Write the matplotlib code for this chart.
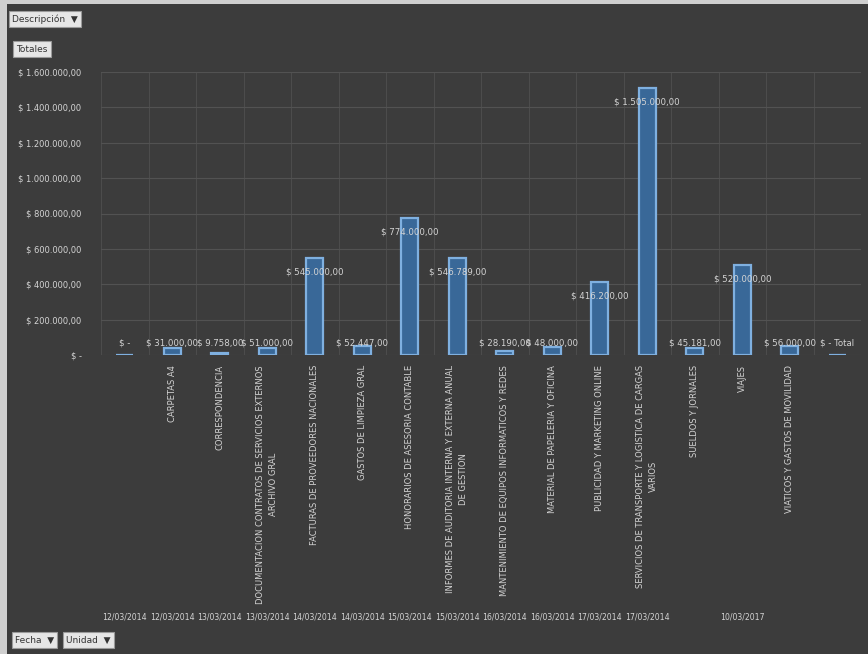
import matplotlib
matplotlib.use("Agg")
import matplotlib.pyplot as plt
from matplotlib.patches import Rectangle
import numpy as np

categories = [
    "",
    "CARPETAS A4",
    "CORRESPONDENCIA",
    "DOCUMENTACION CONTRATOS DE SERVICIOS EXTERNOS\nARCHIVO GRAL",
    "FACTURAS DE PROVEEDORES NACIONALES",
    "GASTOS DE LIMPIEZA GRAL",
    "HONORARIOS DE ASESORIA CONTABLE",
    "INFORMES DE AUDITORIA INTERNA Y EXTERNA ANUAL\nDE GESTION",
    "MANTENIMIENTO DE EQUIPOS INFORMATICOS Y REDES",
    "MATERIAL DE PAPELERIA Y OFICINA",
    "PUBLICIDAD Y MARKETING ONLINE",
    "SERVICIOS DE TRANSPORTE Y LOGISTICA DE CARGAS\nVARIOS",
    "SUELDOS Y JORNALES",
    "VIAJES",
    "VIATICOS Y GASTOS DE MOVILIDAD",
    "",
]
values = [0, 40000, 10000, 42000, 548000, 50000, 775000, 548000,
          22000, 45000, 414000, 1510000, 42000, 509000, 52000, 0]
value_labels = ["$ -", "$ 31.000,00", "$ 9.758,00", "$ 51.000,00", "$ 545.000,00",
                "$ 52.447,00", "$ 774.000,00", "$ 546.789,00", "$ 28.190,00",
                "$ 48.000,00", "$ 416.200,00", "$ 1.505.000,00", "$ 45.181,00",
                "$ 520.000,00", "$ 56.000,00", "$ - Total"]
dates = ["12/03/2014", "12/03/2014", "13/03/2014", "13/03/2014", "14/03/2014",
         "14/03/2014", "15/03/2014", "15/03/2014", "16/03/2014", "16/03/2014",
         "17/03/2014", "17/03/2014", "", "10/03/2017", "", ""]
yticks = [0, 200000, 400000, 600000, 800000, 1000000, 1200000, 1400000, 1600000]
ytick_labels = ["$ -", "$ 200.000,00", "$ 400.000,00", "$ 600.000,00", "$ 800.000,00",
                "$ 1.000.000,00", "$ 1.200.000,00", "$ 1.400.000,00", "$ 1.600.000,00"]

BG = "#3c3c3c"
TXT = "#d4d4d4"
W, H = 868, 654
fig = plt.figure(figsize=(W / 100, H / 100), dpi=100, facecolor=BG)

# window border strips
fig.patches.append(Rectangle((0, 0), 7 / W, 1, transform=fig.transFigure,
                             facecolor="#cfcfcf", edgecolor="none"))
fig.patches.append(Rectangle((0, 1 - 4 / H), 1, 4 / H, transform=fig.transFigure,
                             facecolor="#cfcfcf", edgecolor="none"))

left, right, top, bottom = 101, 861, 72, 355
ax = fig.add_axes([left / W, 1 - bottom / H, (right - left) / W, (bottom - top) / H])
ax.set_facecolor(BG)
x = np.arange(len(categories))
ax.bar(x, values, width=0.36, color="#396898", edgecolor="#7fb0e0", linewidth=1.6, zorder=3)
ax.set_xlim(-0.5, len(categories) - 0.5)
ax.set_ylim(0, 1600000)
ax.set_yticks(yticks)
ax.set_yticklabels(ytick_labels, color=TXT, fontsize=6)
ax.tick_params(axis="y", length=0, pad=14)
ax.set_xticks(x)
ax.set_xticklabels([])
ax.tick_params(axis="x", length=0)
ax.set_xticks(np.arange(len(categories) + 1) - 0.5, minor=True)
ax.tick_params(axis="x", which="minor", length=0)
ax.grid(axis="y", color="#525252", linewidth=0.8, zorder=0)
ax.grid(axis="x", which="minor", color="#4c4c4c", linewidth=0.8, zorder=0)
for s in ax.spines.values():
    s.set_visible(False)

for i, (v, lab) in enumerate(zip(values, value_labels)):
    yl = max(v - 80000, 68000)
    ax.text(i, yl, lab, ha="center", va="center", color=TXT, fontsize=6.2, zorder=4)

for i, (c, d) in enumerate(zip(categories, dates)):
    if c:
        ax.text(i, -0.035, c, transform=ax.get_xaxis_transform(), rotation=90,
                ha="center", va="top", multialignment="center", color=TXT,
                fontsize=6, linespacing=1.6)
    if d:
        ax.text(i, -262 / (bottom - top), d, transform=ax.get_xaxis_transform(),
                ha="center", va="center", color=TXT, fontsize=5.6)

btn = dict(boxstyle="square,pad=0.35", facecolor="#e6e6e6", edgecolor="#9a9a9a", linewidth=0.8)
fig.text(12 / W, 1 - 19 / H, "Descripción  ▼", fontsize=6.5, color="#333333", va="center", ha="left", bbox=btn)
fig.text(16 / W, 1 - 49 / H, "Totales", fontsize=6.5, color="#333333", va="center", ha="left", bbox=btn)
fig.text(15 / W, 1 - 640 / H, "Fecha  ▼", fontsize=6.5, color="#333333", va="center", ha="left", bbox=btn)
fig.text(66 / W, 1 - 640 / H, "Unidad  ▼", fontsize=6.5, color="#333333", va="center", ha="left", bbox=btn)

fig.savefig("out.png", dpi=100, facecolor=BG)
